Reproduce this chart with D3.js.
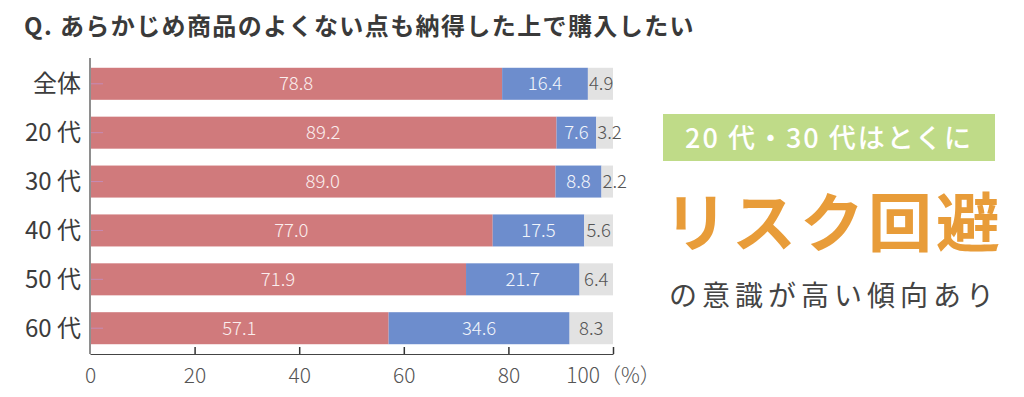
<!DOCTYPE html>
<html>
<head>
<meta charset="utf-8">
<script src="https://d3js.org/d3.v7.min.js"></script>
<style>
  body { margin: 0; background: #fff; }
  text { font-family: "Noto Sans CJK JP", "Noto Sans", sans-serif; }
</style>
</head>
<body>
<div id="chart"></div>
<script>
// data
const categories = ["全体", "20 代", "30 代", "40 代", "50 代", "60 代"];
const agree = [78.8, 89.2, 89.0, 77.0, 71.9, 57.1];
const disagree = [16.4, 7.6, 8.8, 17.5, 21.7, 34.6];
const other = [4.9, 3.2, 2.2, 5.6, 6.4, 8.3];
const xTicks = [0, 20, 40, 60, 80, 100];
const colors = ["#d07a7c", "#6d8dcd", "#e2e2e2"];
const labelColors = ["#fbeeee", "#f2f5fb", "#555"];

const width = 1024, height = 397;
const svg = d3.select("#chart").append("svg")
    .attr("width", width).attr("height", height);

const x = d3.scaleLinear([0, 100], [90, 613]);
const y = d3.scaleBand(categories, [58, 354]).paddingInner(0.345).paddingOuter(0.2);

// title
svg.append("text")
    .attr("x", 24).attr("y", 35)
    .attr("font-size", 24).attr("font-weight", 700)
    .attr("letter-spacing", 1.4)
    .attr("fill", "#3a3a3a")
    .text("Q. あらかじめ商品のよくない点も納得した上で購入したい");

// stacked rows
const rows = categories.map((c, i) => {
    const vals = [agree[i], disagree[i], other[i]];
    let acc = 0;
    return vals.map((v, k) => {
        const d = {cat: c, k, v, x0: acc, x1: Math.min(100, acc + v)};
        acc += v;
        return d;
    });
}).flat();

svg.append("g").selectAll("rect")
    .data(rows)
    .join("rect")
    .attr("x", d => x(d.x0) + (d.k === 0 ? 1 : 0))
    .attr("y", d => y(d.cat))
    .attr("width", d => x(d.x1) - x(d.x0) - (d.k === 0 ? 1 : 0))
    .attr("height", y.bandwidth())
    .attr("fill", d => colors[d.k]);

svg.append("g").selectAll("text")
    .data(rows)
    .join("text")
    .attr("x", d => d.k === 2 ? x(d.x0) + 1 : (x(d.x0) + x(d.x1)) / 2)
    .attr("y", d => y(d.cat) + y.bandwidth() / 2)
    .attr("dy", "0.36em")
    .attr("text-anchor", d => d.k === 2 && d.v < 5 ? "start" : "middle")
    .attr("dx", d => d.k === 2 && d.v >= 5 ? (x(d.x1) - x(d.x0)) / 2 - 1 : 0)
    .attr("font-size", 18.5).attr("font-weight", 300)
    .attr("fill", d => labelColors[d.k])
    .text(d => d.v.toFixed(1));

// small inner ticks on the left
svg.append("g").selectAll("line")
    .data(categories)
    .join("line")
    .attr("x1", 91).attr("x2", 103)
    .attr("y1", d => y(d) + y.bandwidth() / 2)
    .attr("y2", d => y(d) + y.bandwidth() / 2)
    .attr("stroke", "#c58bb4").attr("stroke-width", 1);

// category labels
svg.append("g").selectAll("text")
    .data(categories)
    .join("text")
    .attr("x", 81)
    .attr("y", d => y(d) + y.bandwidth() / 2)
    .attr("dy", "0.36em")
    .attr("text-anchor", "end")
    .attr("font-size", 24).attr("font-weight", 400)
    .attr("fill", "#3c3c3c")
    .text(d => d);

// axes
svg.append("line")
    .attr("x1", 90).attr("x2", 90).attr("y1", 58).attr("y2", 354)
    .attr("stroke", "#444").attr("stroke-width", 1.2);

const xAxis = svg.append("g")
    .attr("transform", "translate(0,354)")
    .call(d3.axisBottom(x).tickValues(xTicks)
        .tickFormat(d => d === 100 ? "100（%）" : d)
        .tickSizeInner(-7).tickSizeOuter(0).tickPadding(14));
xAxis.select(".domain").attr("stroke", "#444").attr("stroke-width", 1.2);
xAxis.selectAll(".tick line").attr("stroke", "#333").attr("stroke-width", 1.5)
    .attr("display", d => d === 0 ? "none" : null);
xAxis.selectAll(".tick text")
    .attr("font-size", 21).attr("fill", "#555").attr("font-weight", 300)
    .attr("font-family", "'Noto Sans CJK JP', sans-serif");

// right side annotation
svg.append("rect")
    .attr("x", 663).attr("y", 114).attr("width", 332).attr("height", 47)
    .attr("fill", "#bfdb88");
svg.append("text")
    .attr("x", 829).attr("y", 148)
    .attr("text-anchor", "middle")
    .attr("font-size", 27).attr("fill", "#fff").attr("font-weight", 500)
    .attr("letter-spacing", 2)
    .text("20 代・30 代はとくに");

svg.append("text")
    .attr("x", 834).attr("y", 246)
    .attr("text-anchor", "middle")
    .attr("font-size", 64).attr("font-weight", 700).attr("fill", "#e89c39")
    .attr("letter-spacing", 4)
    .text("リスク回避");

svg.append("text")
    .attr("x", 834).attr("y", 306)
    .attr("text-anchor", "middle")
    .attr("font-size", 28).attr("fill", "#444")
    .attr("letter-spacing", 5)
    .text("の意識が高い傾向あり");
</script>
</body>
</html>
